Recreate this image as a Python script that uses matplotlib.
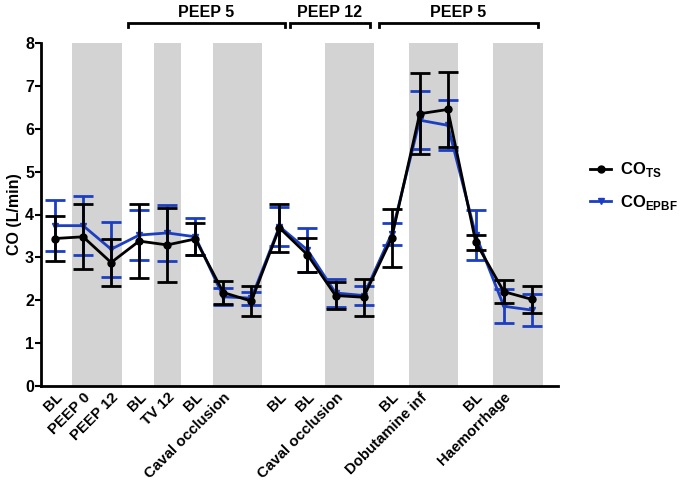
import matplotlib
matplotlib.use("Agg")
import matplotlib.pyplot as plt
from matplotlib.lines import Line2D
import numpy as np

plt.rcParams['font.family'] = ['Liberation Sans', 'DejaVu Sans']
plt.rcParams['font.weight'] = 'bold'
plt.rcParams['mathtext.fontset'] = 'custom'
plt.rcParams['mathtext.rm'] = 'Liberation Sans:bold'
plt.rcParams['mathtext.bf'] = 'Liberation Sans:bold'

labels = ["BL", "PEEP 0", "PEEP 12", "BL", "TV 12", "BL", "Caval occlusion", "",
          "BL", "BL", "Caval occlusion", "", "BL", "Dobutamine inf", "",
          "BL", "Haemorrhage", ""]

co_ts = [3.44, 3.48, 2.88, 3.38, 3.29, 3.43, 2.18, 1.98, 3.69, 3.06, 2.11, 2.07,
         3.45, 6.35, 6.45, 3.35, 2.20, 2.02]
co_ts_err = [0.52, 0.76, 0.55, 0.87, 0.86, 0.37, 0.26, 0.35, 0.56, 0.39, 0.32, 0.43,
             0.68, 0.95, 0.88, 0.18, 0.27, 0.31]
co_epbf = [3.74, 3.74, 3.19, 3.52, 3.57, 3.48, 2.08, 2.05, 3.72, 3.17, 2.17, 2.11,
           3.55, 6.20, 6.08, 3.52, 1.86, 1.77]
co_epbf_err = [0.59, 0.69, 0.64, 0.58, 0.66, 0.43, 0.20, 0.15, 0.45, 0.52, 0.33, 0.23,
               0.25, 0.68, 0.58, 0.58, 0.40, 0.38]

bands = [(1, 2), (4, 4), (6, 7), (10, 11), (13, 14), (16, 17)]
band_top = 8.0

brackets = [("PEEP 5", 2.6, 8.2), ("PEEP 12", 8.37, 11.23), ("PEEP 5", 11.55, 17.2)]

fig = plt.figure(figsize=(6.85, 4.87), dpi=100)
ax = fig.add_axes([41/685, 101/487, 517/685, 343/487])

x = np.arange(len(labels))
for a, b in bands:
    pad = 0.48 if a == b else 0.38
    ax.bar((a + b) / 2, band_top, width=(b - a) + 2 * pad, color='#d3d3d3',
           zorder=0, linewidth=0)

blue = '#1c3fc2'
ax.errorbar(x, co_epbf, yerr=co_epbf_err, color=blue, lw=2, marker='v', ms=5,
            capsize=7, capthick=2, elinewidth=2, zorder=2)
ax.errorbar(x, co_ts, yerr=co_ts_err, color='black', lw=2, marker='o', ms=5,
            capsize=7, capthick=2, elinewidth=2, zorder=3)

fs = 11.5
ax.set_xlim(-0.5, 17.93)
ax.set_ylim(0, 8)
ax.set_yticks(range(0, 9))
ax.set_xticks(x)
ax.set_xticklabels(labels, rotation=45, ha='right', rotation_mode='anchor',
                   fontsize=10.8, fontweight='bold')
ax.tick_params(axis='x', length=0, pad=3)
ax.tick_params(axis='y', width=1.5, length=4, labelsize=fs, pad=1)
for s in ['top', 'right']:
    ax.spines[s].set_visible(False)
for s in ['left', 'bottom']:
    ax.spines[s].set_linewidth(2)
ax.set_ylabel('CO (L/min)', fontsize=fs, fontweight='bold', labelpad=2)

by = 8.47
for name, x0, x1 in brackets:
    ax.plot([x0, x0, x1, x1], [by - 0.1, by, by, by - 0.1], color='black', lw=2,
            clip_on=False, solid_joinstyle='miter')
    ax.text((x0 + x1) / 2, by + 0.06, name, ha='center', va='bottom',
            fontsize=fs, fontweight='bold')

handles = [Line2D([], [], color='black', lw=2, marker='o', ms=5),
           Line2D([], [], color=blue, lw=2, marker='v', ms=5)]
leg_labels = [r'CO$_{\mathbf{TS}}$', r'CO$_{\mathbf{EPBF}}$']
fig.legend(handles, leg_labels, loc='center left', bbox_to_anchor=(0.856, 0.618),
           frameon=False, fontsize=12, handlelength=1.3, labelspacing=0.8,
           handletextpad=0.5, borderaxespad=0, borderpad=0.2)

fig.savefig('out.png', dpi=100)
